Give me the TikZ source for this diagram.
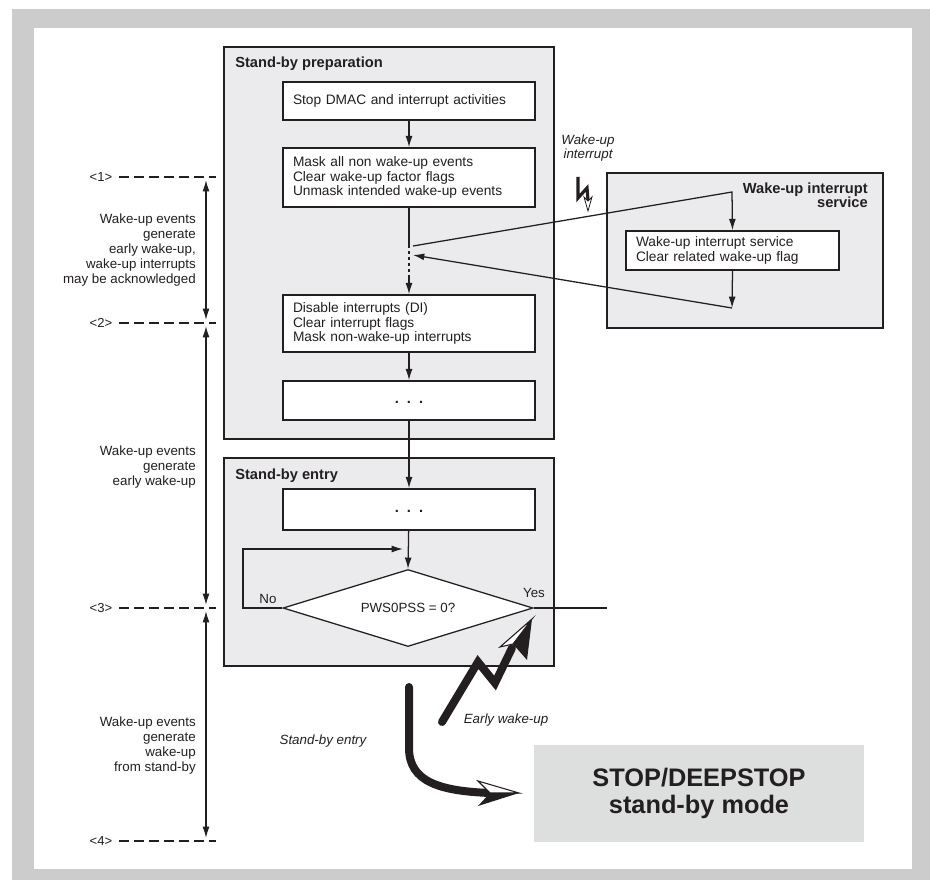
\documentclass[tikz,border=0pt]{standalone}
\usepackage{fontspec}
\setmainfont{Liberation Sans}
\usetikzlibrary{arrows.meta,shapes.geometric}
\definecolor{txt}{HTML}{231F20}
\definecolor{framegrey}{HTML}{CCCCCC}
\definecolor{panel}{HTML}{EBEBED}
\definecolor{stopbg}{HTML}{DDDFDE}
\newcommand{\mydots}{\raisebox{-2.5pt}[0pt][0pt]{.\hspace{0.55em}.\hspace{0.55em}.}}
\begin{document}
\begin{tikzpicture}[x=0.75pt,y=-0.75pt,
  panelbox/.style={draw=txt, line width=1.1pt, fill=panel, inner sep=0pt},
  stepbox/.style={draw=txt, line width=1.1pt, fill=white, minimum width=189pt, text width=174pt,
    inner xsep=7.5pt, inner ysep=0pt, align=left, font=\fontsize{10.3}{10.9}\selectfont, text=txt},
  dotbox/.style={stepbox, align=center, font=\bfseries\fontsize{11}{11}\selectfont},
  flow/.style={draw=txt, line width=0.95pt},
  arr/.style={flow, -{Latex[length=8.5pt,width=5.2pt]}},
  dbl/.style={flow, {Latex[length=8.5pt,width=5.2pt]}-{Latex[length=8.5pt,width=5.2pt]}},
  lvl/.style={draw=txt, line width=0.9pt, dash pattern=on 7.5pt off 3.75pt},
  lvltxt/.style={font=\fontsize{9.8}{11}\selectfont, text=txt, inner sep=0pt},
  lefttxt/.style={align=right, font=\fontsize{10}{11.25}\selectfont, text=txt, inner sep=0pt, anchor=east},
  title/.style={font=\bfseries\fontsize{11}{10.5}\selectfont, text=txt, inner sep=0pt},
  itlabel/.style={font=\itshape\fontsize{10}{10}\selectfont, text=txt, inner sep=0pt, align=center},
  thick arrow/.style={draw=txt, line cap=round, line join=miter}
]
\useasboundingbox (0,0) rectangle (930,880);
% frame
\fill[framegrey] (12,9) rectangle (930,880);
\fill[white] (34,28) rectangle (912,869);

% panels
\node[panelbox, minimum width=247.5pt, minimum height=294pt] (prep) at (389,243) {};
\node[panelbox, minimum width=247.5pt, minimum height=156pt] (entry) at (389,562) {};
\node[panelbox, minimum width=207pt, minimum height=116.25pt] (svcpanel) at (745,250.5) {};
\node[fill=stopbg, minimum width=247.5pt, minimum height=72.75pt, inner sep=0pt, align=center,
  font=\bfseries\fontsize{19}{20}\selectfont, text=txt] (stop) at (699,793.5) {STOP/DEEPSTOP\\stand-by mode};

% titles
\node[title, anchor=base west] (preptitle) at (235,68) {Stand-by preparation};
\node[title, anchor=base west] (entrytitle) at (235,479) {Stand-by entry};
\node[title, anchor=east, align=right] (svctitle) at (868,195) {Wake-up interrupt\\service};

% step boxes
\node[stepbox, minimum height=28.5pt] (b1) at (409,101) {Stop DMAC and interrupt activities};
\node[stepbox, minimum height=44.25pt] (b2) at (409,177.5) {Mask all non wake-up events\\Clear wake-up factor flags\\Unmask intended wake-up events};
\node[stepbox, minimum height=42.75pt] (b3) at (409,323.5) {Disable interrupts (DI)\\Clear interrupt flags\\Mask non-wake-up interrupts};
\node[dotbox, minimum height=29.25pt] (b4) at (409,400.5) {\mydots};
\node[dotbox, minimum height=30.75pt] (b5) at (409,509.5) {\mydots};
\node[stepbox, minimum width=159.75pt, text width=144.75pt, minimum height=29.25pt] (svc) at (732.5,250.5) {Wake-up interrupt service\\Clear related wake-up flag};

% decision
\node[diamond, draw=txt, line width=0.95pt, fill=white, aspect=3, minimum width=187.5pt, minimum height=57.75pt,
  inner sep=0pt, font=\fontsize{10}{10}\selectfont, text=txt] (dia) at (408,608) {PWS0PSS = 0?};
\node[font=\fontsize{10}{10}\selectfont, text=txt, inner sep=0pt] (no) at (268,599) {No};
\node[font=\fontsize{10}{10}\selectfont, text=txt, inner sep=0pt] (yes) at (534,593) {Yes};

% main flow
\coordinate (m1) at (409,245);
\coordinate (m2) at (409,278);
\draw[arr] (b1) -- (b2);
\draw[flow] (b2.south) -- (m1);
\draw[flow, dash pattern=on 2.25pt off 2.25pt] (m1) -- (m2);
\draw[arr] (m2) -- (b3.north);
\draw[arr] (b3) -- (b4);
\draw[arr] (b4) -- (b5);
\draw[arr] (b5) -- (dia.north);
\coordinate (lp1) at (243,608);
\coordinate (lp2) at (243,549);
\coordinate (lp3) at (403,549);
\draw[arr] (dia.west) -- (lp1) -- (lp2) -- (lp3);
\coordinate (yesend) at (607,608);
\draw[flow] (dia.east) -- (yesend);

% interrupt service excursion
\coordinate (s1) at (413,246);
\coordinate (s2) at (732,192);
\coordinate (r1) at (732,308);
\coordinate (r2) at (413,255);
\draw[arr] (s1) -- (s2) -- (svc.north);
\draw[arr] (svc.south) -- (r1);
\draw[arr] (r1) -- (r2);

% wake-up interrupt bolt
\node[itlabel] (wulabel) at (588,148) {Wake-up\\interrupt};
\draw[txt, line width=2.4pt, line join=miter] (578,177) -- (578,198) -- (587,188) -- (588,200);
\filldraw[fill=white, draw=txt, line width=0.6pt] (588,211) -- (584,197) -- (588,201) -- (592,197) -- cycle;

% levels
\node[lvltxt] (l1) at (101,177) {<1>};
\node[lvltxt] (l2) at (101,323) {<2>};
\node[lvltxt] (l3) at (101,608) {<3>};
\node[lvltxt] (l4) at (101,841) {<4>};
\foreach \i/\yy in {1/177,2/323,3/608,4/841}{
  \coordinate (e\i) at (216,\yy);
  \coordinate (s\i) at (119,\yy);
  \draw[lvl] (s\i) -- (e\i);
}
\coordinate (v1a) at (206,180); \coordinate (v1b) at (206,320);
\coordinate (v2a) at (206,326); \coordinate (v2b) at (206,605);
\coordinate (v3a) at (206,611); \coordinate (v3b) at (206,838);
\draw[dbl] (v1a) -- (v1b);
\draw[dbl] (v2a) -- (v2b);
\draw[dbl] (v3a) -- (v3b);
\node[lefttxt] (t1) at (196,250) {Wake-up events\\generate\\early wake-up,\\wake-up interrupts\\may be acknowledged};
\node[lefttxt] (t2) at (196,467) {Wake-up events\\generate\\early wake-up};
\node[lefttxt] (t3) at (196,746) {Wake-up events\\generate\\wake-up\\from stand-by};

% stand-by entry thick arrow
\coordinate (se0) at (409,687);
\coordinate (se1) at (409,748);
\coordinate (se2) at (490,793);
\draw[thick arrow, line width=6pt] (se0) -- (se1) .. controls (409,782) and (440,791) .. (se2);
\filldraw[fill=white, draw=txt, line width=0.8pt] (519,793) -- (478,781) -- (490,793) -- cycle;
\fill[txt] (519,793) -- (490,793) -- (478,806) -- cycle;
\node[itlabel] (selabel) at (323,741) {Stand-by entry};

% early wake-up thick arrow
\coordinate (ew0) at (442,722);
\coordinate (ew1) at (478,662);
\coordinate (ew2) at (495,683);
\coordinate (ew3) at (512,648);
\draw[thick arrow, line width=6pt] (ew0) -- (ew1) -- (ew2) -- (ew3);
\filldraw[fill=white, draw=txt, line width=0.8pt] (532,619) -- (500,647) -- (513,644) -- cycle;
\fill[txt] (532,619) -- (513,644) -- (527,660) -- cycle;
\node[itlabel] (ewlabel) at (506,720) {Early wake-up};
\end{tikzpicture}
\end{document}
